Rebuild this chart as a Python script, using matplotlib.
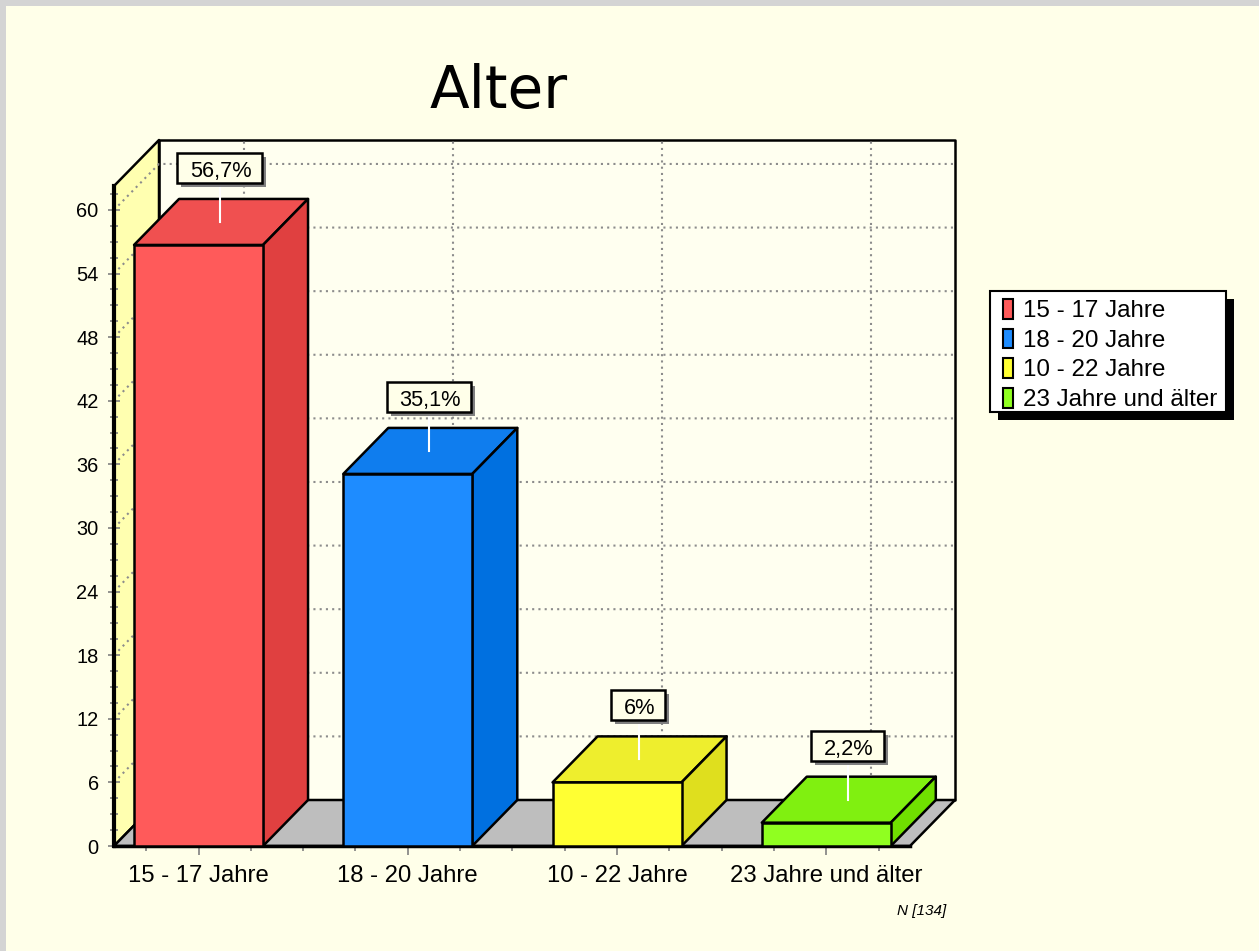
import matplotlib
matplotlib.use("Agg")
import matplotlib.pyplot as plt
from matplotlib.legend_handler import HandlerPatch
from matplotlib.patches import Polygon, Rectangle
from matplotlib.ticker import FixedLocator

categories = ["15 - 17 Jahre", "18 - 20 Jahre", "10 - 22 Jahre", "23 Jahre und älter"]
values = [56.7, 35.1, 6.0, 2.2]
value_labels = ["56,7%", "35,1%", "6%", "2,2%"]
y_ticks = [0, 6, 12, 18, 24, 30, 36, 42, 48, 54, 60]
front_colors = ["#ff5a5a", "#1e8cff", "#ffff33", "#90ff20"]
top_colors = ["#f05050", "#0f7dee", "#eeee2d", "#80f010"]
side_colors = ["#e04040", "#0070e0", "#dfdf1e", "#70e000"]

W, H = 1259, 951
BG = "#ffffe9"
SANS = "Liberation Sans"

fig = plt.figure(figsize=(W / 100, H / 100), dpi=100, facecolor=BG)
# front plane of the 3D box: 114..910 px wide, 186..846 px high
ax = fig.add_axes([114 / W, 1 - 846 / H, 796 / W, 660 / H])
ax.patch.set_visible(False)
xmin, xmax = -0.404, 3.4
ymin, ymax = 0, 62.26
ax.set_xlim(xmin, xmax)
ax.set_ylim(ymin, ymax)

# depth of the box in data units (45 px right, 46 px up)
DX = 45 / (796 / (xmax - xmin))
DY = 46 / (660 / (ymax - ymin))
PX_Y = (ymax - ymin) / 660
PX_X = (xmax - xmin) / 796


def poly(pts, fc, z, lw=1.8):
    ax.add_patch(Polygon(pts, closed=True, fc=fc, ec="black", lw=lw, zorder=z,
                         clip_on=False, joinstyle="round"))


def swatch(legend, orig_handle, xdescent, ydescent, width, height, fontsize):
    return Rectangle((3.4 - xdescent, -ydescent), width - 3.4, height)


def fig_box(x0, y0, x1, y1, **kw):
    # box in pixels from the top left of the figure
    fig.add_artist(Rectangle((x0 / W, 1 - y1 / H), (x1 - x0) / W, (y1 - y0) / H,
                             transform=fig.transFigure, **kw))


# window border
fig_box(0, 0, 6, H, fc="#d4d4d4", ec="none")
fig_box(0, 0, W, 6, fc="#d4d4d4", ec="none")

# back wall, side wall, floor
poly([(xmin + DX, DY), (xmax + DX, DY), (xmax + DX, ymax + DY), (xmin + DX, ymax + DY)], "#fffff0", 1)
poly([(xmin, 0), (xmin + DX, DY), (xmin + DX, ymax + DY), (xmin, ymax)], "#ffffb0", 1.2)
poly([(xmin, 0), (xmin + DX, DY), (xmax + DX, DY), (xmax, 0)], "#bebebe", 1.3)

# grid
grid = dict(color="#8c8c8c", lw=1.5, ls=(0, (1, 2)), zorder=1.25, clip_on=False)
for v in y_ticks[1:]:
    ax.plot([xmin, xmin + DX, xmax + DX], [v, v + DY, v + DY], **grid)
for i in range(len(categories)):
    ax.plot([i + DX, i + DX], [DY, ymax + DY], **grid)

# bars
half = 64.5 * PX_X
for i, v in enumerate(values):
    l, r = i - half, i + half
    poly([(l, v), (l + DX, v + DY), (r + DX, v + DY), (r, v)], top_colors[i], 3)
    poly([(r, 0), (r + DX, DY), (r + DX, v + DY), (r, v)], side_colors[i], 3)
    poly([(l, 0), (r, 0), (r, v), (l, v)], front_colors[i], 3.1)

# value labels with leader line and shadow box
renderer = fig.canvas.get_renderer()
for i, v in enumerate(values):
    cx = i + DX / 2
    cy = v + DY + 31 * PX_Y
    t = ax.text(cx, cy - 3.5 * PX_Y, value_labels[i], ha="center", va="center", fontsize=15.7,
                family=SANS, color="black", zorder=6, clip_on=False)
    bb = t.get_window_extent(renderer).transformed(ax.transData.inverted())
    bw = bb.width + 23 * PX_X
    bh = 30 * PX_Y
    bx = cx - bw / 2 - 1.5 * PX_X
    by = cy - bh / 2
    ax.add_patch(Rectangle((bx + 4 * PX_X, by - 4 * PX_Y), bw, bh, fc="#808080", ec="none",
                           zorder=4.8, clip_on=False))
    ax.add_patch(Rectangle((bx, by), bw, bh, fc="#ffffe9", ec="black", lw=1.8,
                           zorder=5, clip_on=False))
    ax.plot([cx - 1 * PX_X, cx - 1 * PX_X], [v + DY / 2, by], color="white", lw=1.5, zorder=4.5,
            clip_on=False)

# axes
for s in ["top", "right"]:
    ax.spines[s].set_visible(False)
ax.spines["left"].set_linewidth(3)
ax.spines["bottom"].set_linewidth(2.5)
ax.spines["left"].set_zorder(2)
ax.spines["bottom"].set_zorder(2)

ax.set_yticks(y_ticks)
ax.yaxis.set_minor_locator(FixedLocator([k * 1.5 for k in range(42)]))
ax.tick_params(axis="y", which="major", direction="inout", length=9, width=1.2, color="#808080",
               labelsize=14.4, pad=6.5)
ax.tick_params(axis="y", which="minor", direction="inout", length=6, width=1.2, color="#808080")
ax.set_yticklabels([str(v) for v in y_ticks], family=SANS)

ax.set_xticks(range(len(categories)))
ax.set_xticklabels(categories, family=SANS)
ax.xaxis.set_minor_locator(FixedLocator([-0.25, 0.25, 0.5, 0.75, 1.25, 1.5, 1.75, 2.25, 2.5, 2.75, 3.25]))
ax.tick_params(axis="x", which="major", length=6.5, width=1.2, color="#808080", labelsize=17.2, pad=7.5)
ax.tick_params(axis="x", which="minor", length=3.5, width=1.2, color="#808080")

# legend, its frame is drawn by hand as the bottom pad is smaller than the top one
fig_box(998, 299, 1234, 420, fc="black", ec="none")
fig_box(990, 291, 1226, 412, fc="white", ec="black", lw=1.5)
handles = [Rectangle((0, 0), 1, 1, fc=c, ec="black", lw=1.5) for c in front_colors]
fig.legend(handles, categories, loc="upper left", bbox_to_anchor=(990 / W, 1 - 291 / H),
           bbox_transform=fig.transFigure, borderaxespad=0, frameon=False,
           prop={"family": SANS, "size": 17.4}, handlelength=0.63, handleheight=0.87,
           handletextpad=0.42, labelspacing=0.27, borderpad=0.33,
           handler_map={Rectangle: HandlerPatch(patch_func=swatch)})

fig.text(499 / W, 1 - 108 / H, "Alter", ha="center", va="baseline", fontsize=41.8,
         family="DejaVu Sans", color="black")
fig.text(946 / W, 1 - 915 / H, "N [134]", ha="right", va="baseline", fontsize=11,
         family=SANS, style="italic", color="black")

fig.savefig("out.png", dpi=100, facecolor=BG)
